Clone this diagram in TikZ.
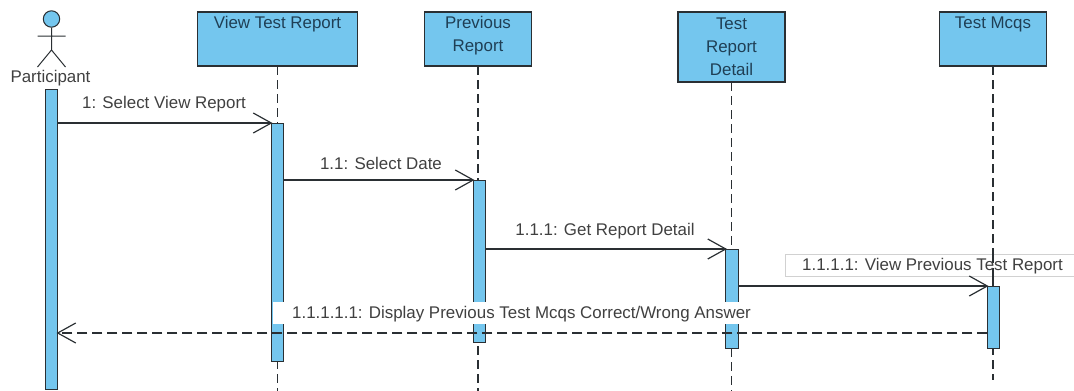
\documentclass[tikz,border=0pt]{standalone}
\usepackage{fontspec}
\setmainfont{Liberation Sans}
\definecolor{lifefill}{HTML}{74C6EE}
\definecolor{lineink}{HTML}{2A2F33}
\definecolor{boxtext}{HTML}{1F3F55}
\definecolor{msgtext}{HTML}{404040}
\tikzset{
  x=1pt,y=-1pt,
  every node/.style={font=\fontsize{16.9}{23}\selectfont},
  lifebox/.style={draw=lineink,fill=lifefill,line width=1.2pt,minimum width=#1,inner sep=0pt,outer sep=0pt,text=boxtext,align=center,anchor=north},
  headtext/.style={text=boxtext,align=center,inner sep=0pt},
  lifeline/.style={draw=lineink,line width=1.1pt,dash pattern=on 9pt off 5pt},
  actbar/.style={draw=lineink,fill=lifefill,line width=1pt,minimum width=12.5pt,inner sep=0pt,outer sep=0pt,anchor=north},
  msgarrow/.style={draw=lineink,line width=1.2pt},
  retarrow/.style={draw=lineink,line width=1.2pt,dash pattern=on 10pt off 5pt},
  openhead/.style={draw=lineink,line width=1.2pt},
  msglabel/.style={text=msgtext,inner sep=0pt},
  actorline/.style={draw=lineink,line width=1pt}
}
\begin{document}
\begin{tikzpicture}
\useasboundingbox (0,0) rectangle (1074,391);
% header boxes
\node[lifebox=160pt,minimum height=54pt] (vtr) at (277.5,12) {};
\node[lifebox=107pt,minimum height=54pt] (prev) at (478,12) {};
\node[lifebox=107pt,minimum height=70pt] (trd) at (731.5,12) {};
\node[lifebox=107pt,minimum height=54pt] (mcq) at (993,12) {};
\node[headtext] (vtrtext) at (277.5,24.5) {View Test Report};
\node[headtext] (prevtext) at (478,35.5) {Previous\\Report};
\node[headtext] (trdtext) at (731.5,47) {Test\\Report\\Detail};
\node[headtext] (mcqtext) at (993,24.5) {Test Mcqs};
% lifeline ends
\coordinate (vtrend) at (277.5,391);
\coordinate (prevend) at (478,391);
\coordinate (trdend) at (731.5,391);
\coordinate (mcqend) at (993,380);
\draw[lifeline] (vtr.south) -- (vtrend);
\draw[lifeline] (prev.south) -- (prevend);
\draw[lifeline] (trd.south) -- (trdend);
\draw[lifeline] (mcq.south) -- (mcqend);
% actor
\draw[actorline,fill=lifefill] (51.5,19) circle (8.2);
\coordinate (neck) at (51.5,27.5);
\coordinate (hip) at (51.5,50);
\coordinate (armL) at (37.5,36);
\coordinate (armR) at (65.5,36);
\coordinate (footL) at (37.5,67);
\coordinate (footR) at (65.5,67);
\draw[actorline] (neck) -- (hip) (armL) -- (armR) (footL) -- (hip) -- (footR);
\node[text=msgtext,inner sep=0pt] (actor) at (50.5,78) {Participant};
% activations
\node[actbar,minimum height=300pt] (aP) at (51.5,89) {};
\node[actbar,minimum height=238pt] (aV) at (277.5,123) {};
\node[actbar,minimum height=162pt] (aR) at (479.5,180) {};
\node[actbar,minimum height=99pt] (aT) at (732,249) {};
\node[actbar,minimum height=62pt] (aM) at (993.5,286) {};
% white label plates
\node[fill=white,inner sep=0pt,minimum width=482pt,minimum height=22pt] (ret) at (514,313) {};
\node[draw=black!18,fill=white,inner sep=0pt,line width=.8pt,minimum width=292pt,minimum height=22pt,anchor=west] (plate) at (785,265) {};
\coordinate (mcqa) at (993,254);
\coordinate (mcqb) at (993,286);
\draw[lifeline] (mcqa) -- (mcqb);
% messages
\coordinate (m1) at (aV.north west);
\coordinate (m2) at (aR.north west);
\coordinate (m3) at (aT.north west);
\coordinate (m4) at (aM.north west);
\coordinate (r1) at ([yshift=-47pt]aM.north west);
\draw[msgarrow] (aP.east |- m1) -- (m1);
\draw[openhead] (m1) ++(-18,-10) -- (m1) -- ++(-18,10);
\draw[msgarrow] (aV.east |- m2) -- (m2);
\draw[openhead] (m2) ++(-18,-10) -- (m2) -- ++(-18,10);
\draw[msgarrow] (aR.east |- m3) -- (m3);
\draw[openhead] (m3) ++(-18,-10) -- (m3) -- ++(-18,10);
\draw[msgarrow] (aT.east |- m4) -- (m4);
\draw[openhead] (m4) ++(-18,-10) -- (m4) -- ++(-18,10);
\coordinate (r2) at (aP.east |- r1);
\draw[retarrow] (r1) -- (r2);
\draw[openhead] (r2) ++(18,-10) -- (r2) -- ++(18,10);
% message labels
\node[msglabel] (l1) at (164,104) {1: Select View Report};
\node[msglabel] (l2) at (381,163) {1.1: Select Date};
\node[msglabel] (l3) at (605,231) {1.1.1: Get Report Detail};
\node[msglabel] (l4) at (932.5,266) {1.1.1.1: View Previous Test Report};
\node[msglabel] (l5) at (521.5,314) {1.1.1.1.1: Display Previous Test Mcqs Correct/Wrong Answer};
\end{tikzpicture}
\end{document}
